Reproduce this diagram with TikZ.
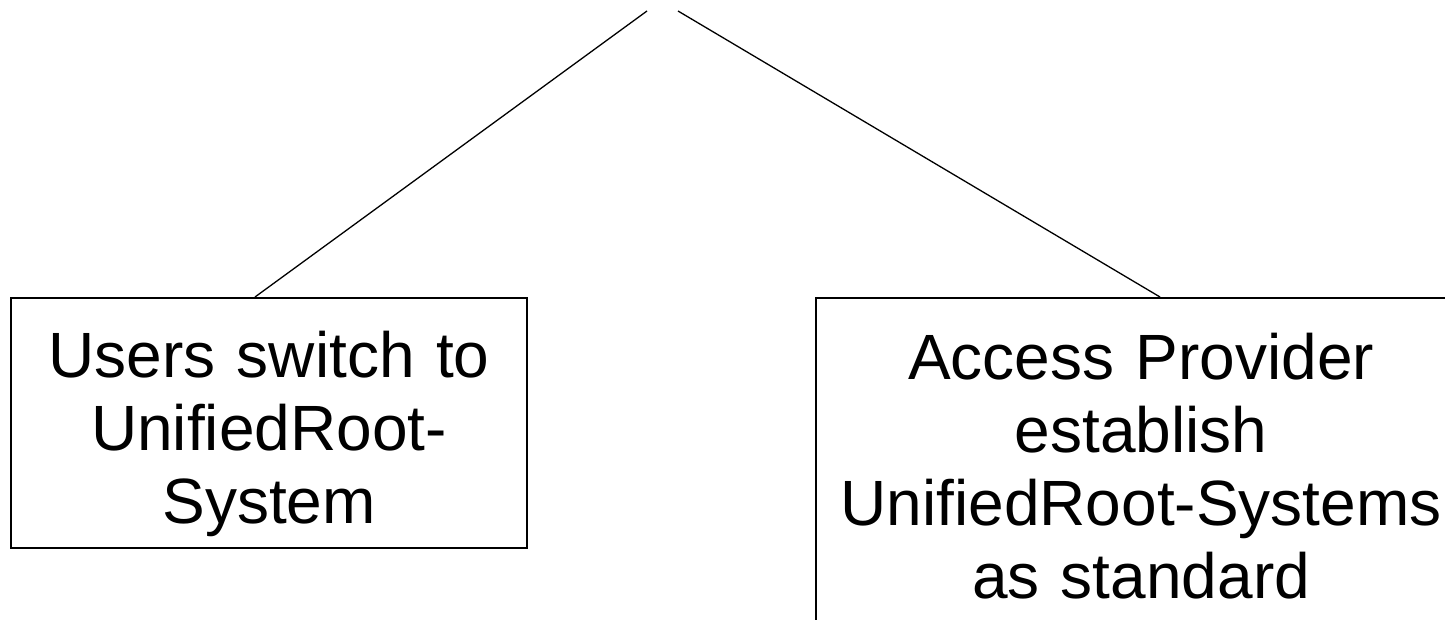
\documentclass[tikz,border=0pt]{standalone}
\usepackage{fontspec}
\setmainfont{Liberation Sans}
\usepackage{tikz}
\usetikzlibrary{calc}

\begin{document}
\begin{tikzpicture}[x=1pt,y=-1pt]
	\def \boxtop{297}
	\tikzstyle{s-box}=[draw=black,line width=2pt,anchor=north west,inner sep=0pt,align=center,font=\fontsize{64}{73}\selectfont]
	\tikzstyle{s-line}=[draw=black,line width=1.3pt]
	\useasboundingbox (0,0) rectangle (1445,620);
	\clip (0,0) rectangle (1445,620);
	
	% top ends
	\coordinate (apexl) at (647,11);
	\coordinate (apexr) at (678,11);
	
	% boxes
	\node[s-box,text width=516pt,text height=79pt,text depth=171pt] (users) at (10,\boxtop)
		{Users switch to\\UnifiedRoot-\\System};
	\node[s-box,text width=650pt,text height=81pt,text depth=330pt] (provider) at (815,\boxtop)
		{Access Provider\\establish\\UnifiedRoot-Systems\\as standard};
	
	\path[s-line]
		(apexl)	--	($(users.north west)+(245,0)$)
		(apexr)	--	($(provider.north west)+(345,0)$);
		
\end{tikzpicture}
\end{document}
